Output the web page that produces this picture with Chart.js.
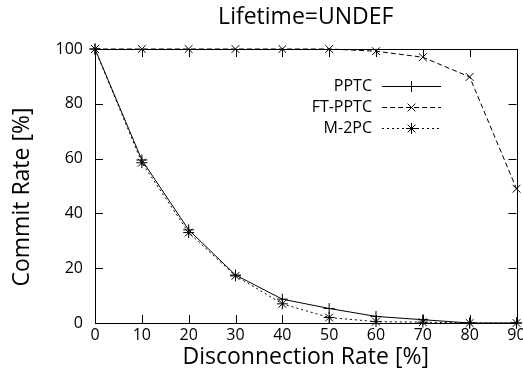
<!DOCTYPE html>
<html>
<head>
<meta charset="utf-8">
<script src="https://cdn.jsdelivr.net/npm/chart.js@4.4.1/dist/chart.umd.min.js"></script>
<style>
html, body { margin: 0; padding: 0; background: #fff; }
#c { display: block; }
</style>
</head>
<body>
<canvas id="c" width="523" height="379"></canvas>
<script>
var rates = [0, 10, 20, 30, 40, 50, 60, 70, 80, 90];
var pptc = [100, 59.5, 34, 17.5, 8.7, 5.3, 2.4, 1.2, 0, 0];
var ftPptc = [100, 100, 100, 100, 100, 100, 99.2, 97, 89.8, 49];
var m2pc = [100, 58.5, 33, 17.2, 7, 2, 0.5, 0.3, 0, 0];
var xTicks = [0, 10, 20, 30, 40, 50, 60, 70, 80, 90];
var yTicks = [0, 20, 40, 60, 80, 100];

var FONT = '"Open Sans", "DejaVu Sans", sans-serif';

function pts(ys) {
	return rates.map(function(x, i) { return { x: x, y: ys[i] }; });
}

function series(label, ys, dash, style) {
	return {
		label: label,
		data: pts(ys),
		borderColor: '#000',
		backgroundColor: '#000',
		borderWidth: 1,
		borderDash: dash,
		pointStyle: style,
		pointRadius: 5.5,
		pointBorderColor: '#000',
		pointBorderWidth: 1,
		tension: 0,
		clip: false
	};
}

// gnuplot-ish frame with inward ticks
var frame = {
	id: 'frame',
	beforeDatasetsDraw: function(chart) {
		var a = chart.chartArea, ctx = chart.ctx;
		var sx = chart.scales.x, sy = chart.scales.y;
		ctx.save();
		ctx.strokeStyle = '#000';
		ctx.lineWidth = 1;
		ctx.strokeRect(Math.round(a.left) + 0.5, Math.round(a.top) + 0.5,
			Math.round(a.right - a.left), Math.round(a.bottom - a.top));
		ctx.beginPath();
		yTicks.forEach(function(v) {
			var py = Math.round(sy.getPixelForValue(v)) + 0.5;
			ctx.moveTo(a.left, py); ctx.lineTo(a.left + 8, py);
			ctx.moveTo(a.right, py); ctx.lineTo(a.right - 8, py);
		});
		xTicks.forEach(function(v) {
			var px = Math.round(sx.getPixelForValue(v)) + 0.5;
			ctx.moveTo(px, a.bottom); ctx.lineTo(px, a.bottom - 8);
			ctx.moveTo(px, a.top); ctx.lineTo(px, a.top + 8);
		});
		ctx.stroke();
		ctx.restore();
	}
};

// title and y label, placed like gnuplot does
var heading = {
	id: 'heading',
	afterDraw: function(chart) {
		var a = chart.chartArea, ctx = chart.ctx;
		ctx.save();
		ctx.fillStyle = '#000';
		ctx.font = '23px ' + FONT;
		ctx.textAlign = 'center';
		ctx.textBaseline = 'middle';
		ctx.fillText('Lifetime=UNDEF', (a.left + a.right) / 2, 17);
		ctx.translate(22, 197);
		ctx.rotate(-Math.PI / 2);
		ctx.fillText('Commit Rate [%]', 0, 0);
		ctx.restore();
	}
};

function marker(ctx, style, x, y, r) {
	ctx.beginPath();
	if (style === 'cross' || style === 'star') {
		ctx.moveTo(x - r, y); ctx.lineTo(x + r, y);
		ctx.moveTo(x, y - r); ctx.lineTo(x, y + r);
	}
	if (style === 'crossRot' || style === 'star') {
		var d = r * 0.7071;
		ctx.moveTo(x - d, y - d); ctx.lineTo(x + d, y + d);
		ctx.moveTo(x - d, y + d); ctx.lineTo(x + d, y - d);
	}
	ctx.stroke();
}

var keyBox = {
	id: 'keyBox',
	afterDraw: function(chart) {
		var ctx = chart.ctx;
		ctx.save();
		ctx.font = '16px ' + FONT;
		ctx.textAlign = 'right';
		ctx.textBaseline = 'middle';
		ctx.fillStyle = '#000';
		ctx.strokeStyle = '#000';
		ctx.lineWidth = 1;
		chart.data.datasets.forEach(function(ds, i) {
			var y = 86.5 + i * 21;
			ctx.fillText(ds.label, 372, y);
			ctx.setLineDash(ds.borderDash);
			ctx.beginPath();
			ctx.moveTo(382, y); ctx.lineTo(441, y);
			ctx.stroke();
			ctx.setLineDash([]);
			marker(ctx, ds.pointStyle, 411.5, y, ds.pointRadius);
		});
		ctx.restore();
	}
};

new Chart(document.getElementById('c'), {
	type: 'line',
	data: {
		datasets: [
			series('PPTC', pptc, [], 'cross'),
			series('FT-PPTC', ftPptc, [5, 3], 'crossRot'),
			series('M-2PC', m2pc, [2, 3], 'star')
		]
	},
	options: {
		responsive: false,
		animation: false,
		layout: { padding: { top: 49, right: 4, left: 0, bottom: 0 } },
		plugins: {
			legend: { display: false },
			title: { display: false },
			tooltip: { enabled: false }
		},
		scales: {
			x: {
				type: 'linear',
				min: 0,
				max: 90,
				afterBuildTicks: function(s) { s.ticks = xTicks.map(function(v) { return { value: v }; }); },
				afterFit: function(s) { s.height = 56; s.paddingLeft = 0; s.paddingRight = 0; },
				grid: { display: false, drawTicks: false },
				border: { display: false },
				ticks: { autoSkip: false, maxRotation: 0, color: '#000', padding: 3, font: { family: FONT, size: 16 } },
				title: { display: true, text: 'Disconnection Rate [%]', color: '#000', padding: { top: 0, bottom: 8 }, font: { family: FONT, size: 23 } }
			},
			y: {
				min: 0,
				max: 100,
				afterBuildTicks: function(s) { s.ticks = yTicks.map(function(v) { return { value: v }; }); },
				afterFit: function(s) { s.width = 95; },
				grid: { display: false, drawTicks: false },
				border: { display: false },
				ticks: { color: '#000', padding: 12, font: { family: FONT, size: 16 } }
			}
		}
	},
	plugins: [frame, heading, keyBox]
});
</script>
</body>
</html>
